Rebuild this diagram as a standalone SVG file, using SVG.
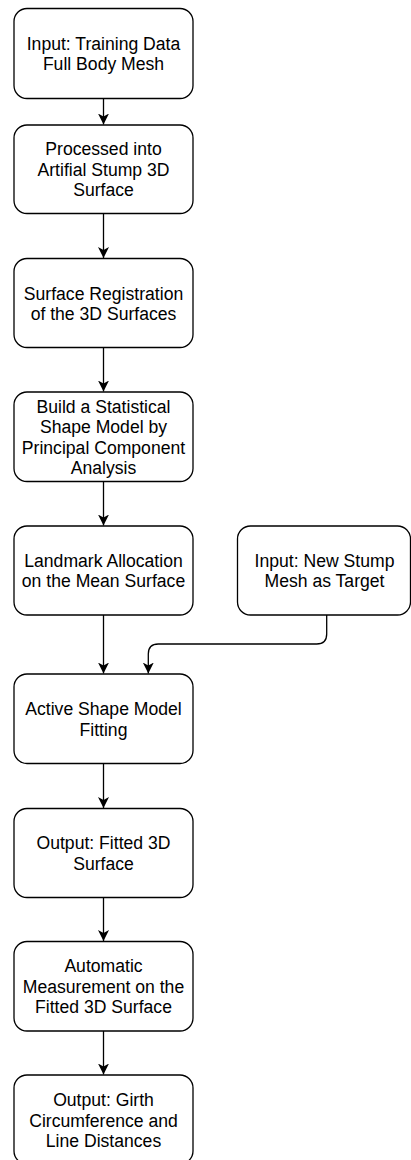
<svg xmlns="http://www.w3.org/2000/svg" width="411" height="1160" viewBox="0 0 411 1160">
  <style>
    .box { fill: #ffffff; stroke: #000000; stroke-width: 1.3; }
    .lbl { font-family: "Liberation Sans", Arial, sans-serif; font-size: 17.6px; fill: #000000; text-anchor: middle; }
    .edge { fill: none; stroke: #000000; stroke-width: 1.3; marker-end: url(#arrow); }
  </style>
  <defs>
    <marker id="arrow" markerUnits="userSpaceOnUse" markerWidth="12" markerHeight="12" refX="11" refY="5.5" orient="auto">
      <path d="M0,0 L11,5.5 L0,11 L3,5.5 Z" fill="#000000"/>
    </marker>
  </defs>
  <rect width="411" height="1160" fill="#ffffff"/>

  <g id="connectors">
    <path class="edge" d="M103.5 98.5 V124.5"/>
    <path class="edge" d="M103.5 213.5 V258"/>
    <path class="edge" d="M103.5 347.5 V391.5"/>
    <path class="edge" d="M103.5 481.5 V525.5"/>
    <path class="edge" d="M103.5 615 V673.5"/>
    <path class="edge" d="M326.7 615 V634 Q326.7 644 316.7 644 H158.3 Q148.3 644 148.3 654 V673.5"/>
    <path class="edge" d="M103.5 763.5 V808"/>
    <path class="edge" d="M103.5 897.5 V941"/>
    <path class="edge" d="M103.5 1031 V1074.5"/>
  </g>

  <g id="input-training">
    <rect class="box" x="14" y="8.5" width="179" height="90" rx="13"/>
    <text class="lbl"><tspan x="103.5" y="49.5">Input: Training Data</tspan><tspan x="103.5" y="70">Full Body Mesh</tspan></text>
  </g>
  <g id="processed">
    <rect class="box" x="14" y="125" width="179" height="88.5" rx="13"/>
    <text class="lbl"><tspan x="103.5" y="155">Processed into</tspan><tspan x="103.5" y="175.5">Artifial Stump 3D</tspan><tspan x="103.5" y="196">Surface</tspan></text>
  </g>
  <g id="registration">
    <rect class="box" x="14" y="258.5" width="179" height="89" rx="13"/>
    <text class="lbl"><tspan x="103.5" y="299.5">Surface Registration</tspan><tspan x="103.5" y="320">of the 3D Surfaces</tspan></text>
  </g>
  <g id="ssm">
    <rect class="box" x="14" y="392" width="179" height="89.5" rx="13"/>
    <text class="lbl"><tspan x="103.5" y="412.5">Build a Statistical</tspan><tspan x="103.5" y="433">Shape Model by</tspan><tspan x="103.5" y="453.5">Principal Component</tspan><tspan x="103.5" y="474">Analysis</tspan></text>
  </g>
  <g id="landmark">
    <rect class="box" x="14" y="526" width="179" height="89" rx="13"/>
    <text class="lbl"><tspan x="103.5" y="566.5">Landmark Allocation</tspan><tspan x="103.5" y="587">on the Mean Surface</tspan></text>
  </g>
  <g id="input-stump">
    <rect class="box" x="237.5" y="526" width="173" height="89" rx="13"/>
    <text class="lbl"><tspan x="324.5" y="566.5">Input: New Stump</tspan><tspan x="324.5" y="587">Mesh as Target</tspan></text>
  </g>
  <g id="asm-fitting">
    <rect class="box" x="14" y="674" width="179" height="89.5" rx="13"/>
    <text class="lbl"><tspan x="103.5" y="715">Active Shape Model</tspan><tspan x="103.5" y="735.5">Fitting</tspan></text>
  </g>
  <g id="fitted-surface">
    <rect class="box" x="14" y="808.5" width="179" height="89" rx="13"/>
    <text class="lbl"><tspan x="103.5" y="849">Output: Fitted 3D</tspan><tspan x="103.5" y="869.5">Surface</tspan></text>
  </g>
  <g id="measurement">
    <rect class="box" x="14" y="941.5" width="179" height="89.5" rx="13"/>
    <text class="lbl"><tspan x="103.5" y="972">Automatic</tspan><tspan x="103.5" y="992.5">Measurement on the</tspan><tspan x="103.5" y="1013">Fitted 3D Surface</tspan></text>
  </g>
  <g id="girth-output">
    <rect class="box" x="14" y="1075" width="179" height="89" rx="13"/>
    <text class="lbl"><tspan x="103.5" y="1106">Output: Girth</tspan><tspan x="103.5" y="1126.5">Circumference and</tspan><tspan x="103.5" y="1147">Line Distances</tspan></text>
  </g>
</svg>
